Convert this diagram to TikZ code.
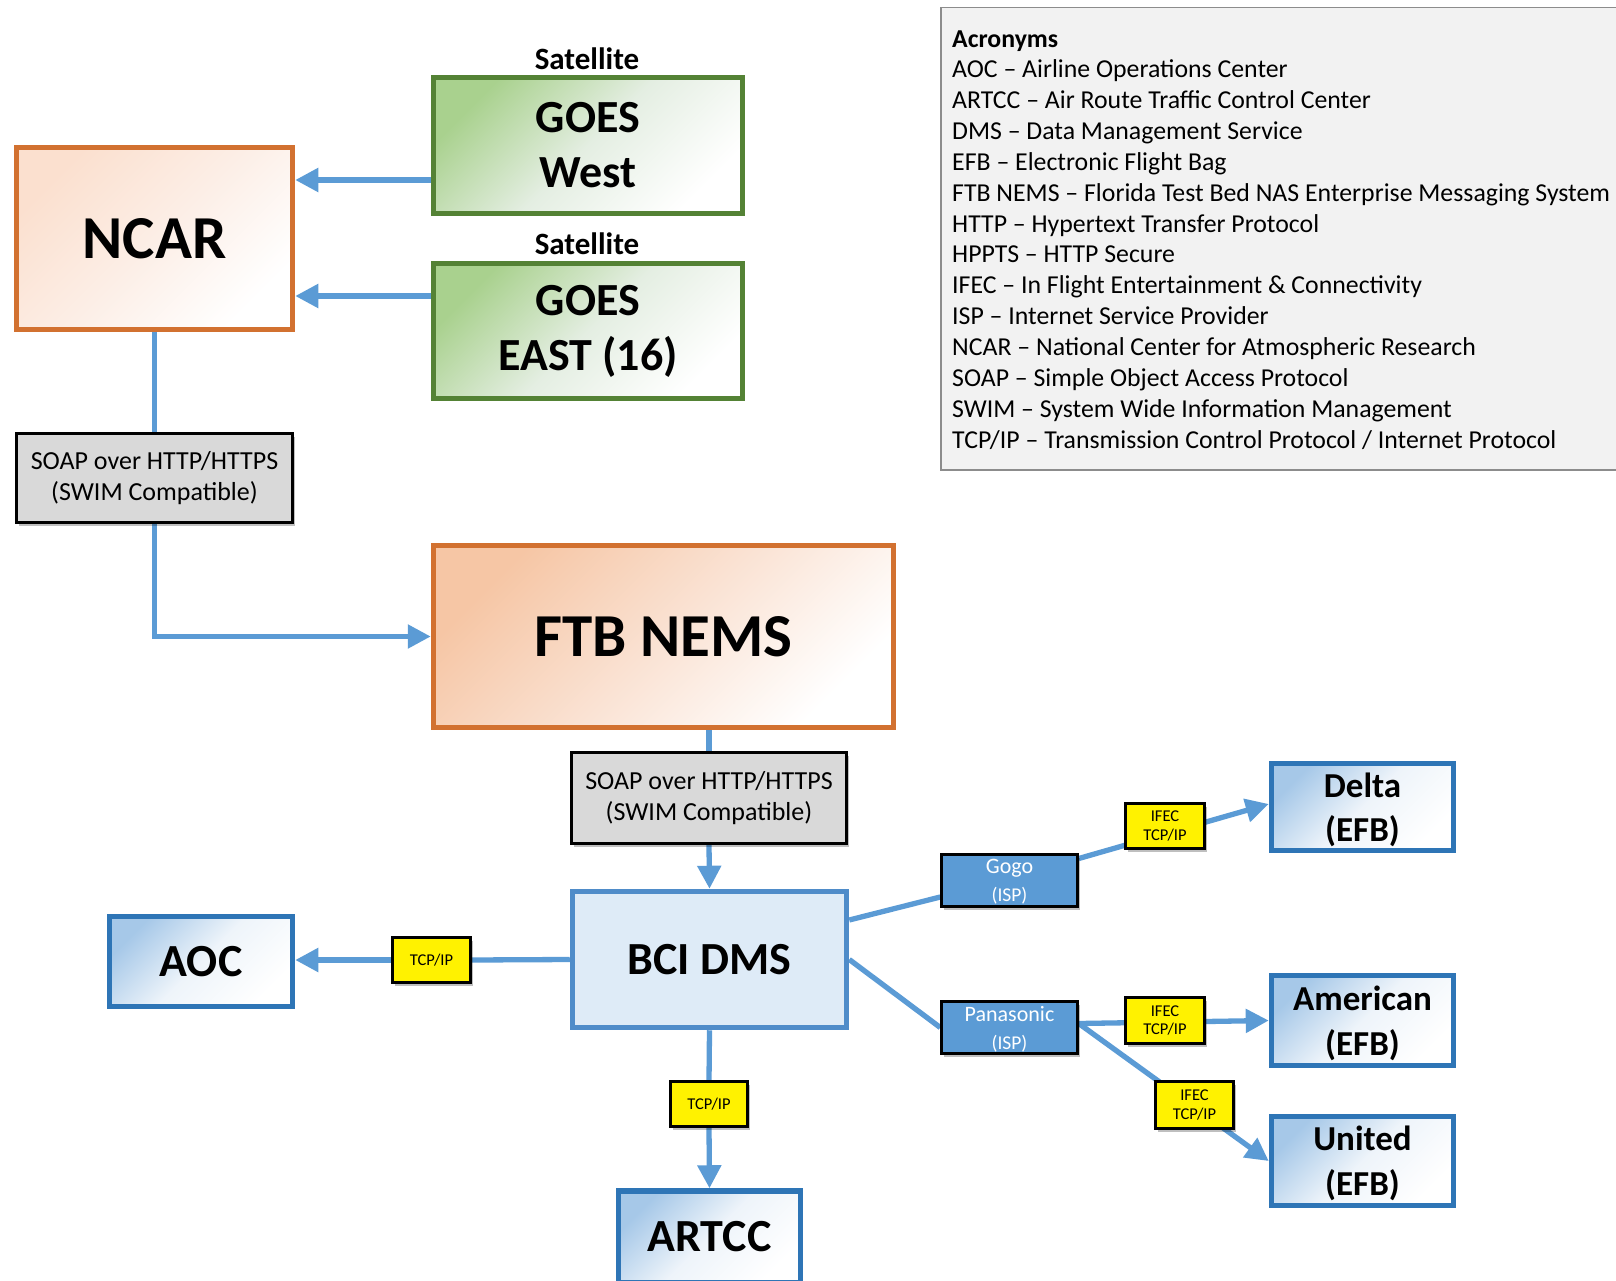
\documentclass[tikz,border=0pt]{standalone}
\usepackage{fontspec}
\setmainfont{Carlito}
\usetikzlibrary{arrows.meta,shadows,backgrounds,calc}
\definecolor{linkblue}{HTML}{5B9BD5}
\definecolor{boxblue}{HTML}{2E75B6}
\definecolor{bciblue}{HTML}{4F8CC9}
\definecolor{bcifill}{HTML}{DEEBF7}
\definecolor{orangeb}{HTML}{D27130}
\definecolor{greenb}{HTML}{548235}
\definecolor{grayfill}{HTML}{D9D9D9}
\definecolor{acrofill}{HTML}{F2F2F2}
\definecolor{acroline}{HTML}{8C8C8C}
\definecolor{blueA}{HTML}{A6C8E8}
\definecolor{blueM}{HTML}{EEF4FA}
\definecolor{orangeA}{HTML}{F6C6A5}
\definecolor{orangeM}{HTML}{FAE2D3}
\definecolor{ncarA}{HTML}{FBE0CF}
\definecolor{ncarM}{HTML}{FCEEE6}
\definecolor{greenA}{HTML}{A9D18E}
\definecolor{greenM}{HTML}{E4EEE2}
\definecolor{ispfill}{HTML}{5B9BD5}
\tikzset{
  box/.style={rectangle, inner sep=0pt, align=center, text=black},
  bluebox/.style={box, draw=boxblue, line width=5.5pt, top color=blueA, bottom color=white, middle color=blueM, shading angle=45},
  orangebox/.style={box, draw=orangeb, line width=5.5pt, font=\bfseries\fontsize{61}{70}\selectfont},
  greenbox/.style={box, draw=greenb, line width=5.5pt, top color=greenA, bottom color=white, middle color=greenM, shading angle=45, font=\bfseries\fontsize{46}{55}\selectfont},
  graybox/.style={box, draw=black, line width=2.5pt, fill=grayfill, drop shadow={shadow xshift=2pt, shadow yshift=-3pt, fill=black, opacity=0.25}, font=\fontsize{26}{31}\selectfont},
  tagbox/.style={box, draw=black, line width=2.5pt, fill=yellow, drop shadow={shadow xshift=2pt, shadow yshift=-3pt, fill=black, opacity=0.25}, font=\fontsize{16.5}{18.5}\selectfont},
  ispbox/.style={box, draw=black, line width=2.5pt, fill=ispfill, text=white, text depth=0pt, drop shadow={shadow xshift=2pt, shadow yshift=-3pt, fill=black, opacity=0.25}, font=\fontsize{22}{28}\selectfont},
  bigfont/.style={font=\bfseries\fontsize{46}{55}\selectfont},
  airfont/.style={font=\bfseries\fontsize{35}{44}\selectfont, text depth=0pt},
  satlabel/.style={font=\bfseries\fontsize{31}{35}\selectfont, inner sep=0pt},
  link/.style={draw=linkblue, line width=5.3pt},
  arr/.style={link, -{Triangle[length=23pt,width=23pt]}},
}
\begin{document}
\begin{tikzpicture}[x=1pt, y=-1pt]
\useasboundingbox (0,0) rectangle (1616,1281);
\clip (0,0) rectangle (1616,1281);

% acronyms
\node (acro) [draw=acroline, line width=1.5pt, fill=acrofill, anchor=north west, minimum width=720pt, minimum height=462pt] at (940,7) {};
\node (acrotext) [anchor=west, align=left, inner sep=0pt, font=\fontsize{25.8}{30.85}\selectfont] at ([xshift=12pt,yshift=-1pt]acro.west) {\textbf{Acronyms}\\
AOC – Airline Operations Center\\
ARTCC – Air Route Traffic Control Center\\
DMS – Data Management Service\\
EFB – Electronic Flight Bag\\
FTB NEMS – Florida Test Bed NAS Enterprise Messaging System\\
HTTP – Hypertext Transfer Protocol\\
HPPTS – HTTP Secure\\
IFEC – In Flight Entertainment \& Connectivity\\
ISP – Internet Service Provider\\
NCAR – National Center for Atmospheric Research\\
SOAP – Simple Object Access Protocol\\
SWIM – System Wide Information Management\\
TCP/IP – Transmission Control Protocol / Internet Protocol};

% satellites
\node (sat1) [satlabel] at (587,59) {Satellite};
\node (goesw) [greenbox, minimum width=309pt, minimum height=136pt] at (588,145.5) {GOES\\West};
\node (sat2) [satlabel] at (587,244) {Satellite};
\node (goese) [greenbox, minimum width=309pt, minimum height=135pt] at (588,331) {GOES\\EAST (16)};

% NCAR and FTB
\node (ncar) [orangebox, top color=ncarA, bottom color=white, middle color=ncarM, shading angle=45, minimum width=276pt, minimum height=182pt] at (154.5,238.5) {NCAR};
\node (soap1) [graybox, minimum width=276pt, minimum height=89pt] at (154.5,478) {SOAP over HTTP/HTTPS\\(SWIM Compatible)};
\node (ftb) [orangebox, top color=orangeA, bottom color=white, middle color=orangeM, shading angle=45, minimum width=460pt, minimum height=182pt] at (663.5,636.5) {FTB NEMS};
\node (soap2) [graybox, minimum width=275pt, minimum height=91pt] at (709,798) {SOAP over HTTP/HTTPS\\(SWIM Compatible)};

% BCI DMS and left/bottom
\node (bci) [box, draw=bciblue, line width=5.5pt, fill=bcifill, bigfont, minimum width=274pt, minimum height=136pt] at (709.5,959.5) {BCI DMS};
\node (aoc) [bluebox, bigfont, minimum width=183pt, minimum height=90pt] at (201,961.5) {AOC};
\node (tcpa) [tagbox, minimum width=78pt, minimum height=45pt] at (431.5,960) {TCP/IP};
\node (tcpv) [tagbox, minimum width=77pt, minimum height=45pt] at (709,1104) {TCP/IP};
\node (artcc) [bluebox, bigfont, minimum width=182pt, minimum height=92pt] at (709.5,1237) {ARTCC};

% ISPs
\node (gogo) [ispbox, minimum width=136pt, minimum height=52pt] at (1009.5,880.5) {Gogo\\{\fontsize{19.5}{28}\selectfont (ISP)}};
\node (pana) [ispbox, minimum width=136pt, minimum height=52pt] at (1009.5,1027.5) {Panasonic\\{\fontsize{19.5}{28}\selectfont (ISP)}};

% airlines
\node (delta) [bluebox, airfont, minimum width=182pt, minimum height=87pt] at (1362.5,807) {Delta\\(EFB)};
\node (american) [bluebox, airfont, minimum width=182pt, minimum height=90pt] at (1362.5,1020.5) {American\\[1pt](EFB)};
\node (united) [bluebox, airfont, minimum width=182pt, minimum height=89pt] at (1362.5,1161) {United\\[1pt](EFB)};

\node (ifecd) [tagbox, minimum width=79pt, minimum height=45pt] at (1165,826) {IFEC\\TCP/IP};
\node (ifeca) [tagbox, minimum width=79pt, minimum height=46pt] at (1165,1020.5) {IFEC\\TCP/IP};
\node (ifecu) [tagbox, minimum width=78pt, minimum height=47pt] at (1194.5,1105) {IFEC\\TCP/IP};

% connectors
\begin{scope}[on background layer]
\coordinate (wA) at ([yshift=-34.5pt]goesw.west);
\coordinate (eA) at ([yshift=35pt]goese.west);
\draw[arr] (wA) -- (wA -| ncar.east);
\draw[arr] (eA) -- (eA -| ncar.east);
\draw[link] (ncar.south) -- (soap1.north);
\draw[arr] (soap1.south) |- (ftb.west);
\draw[link] (soap2.north |- ftb.south) -- (soap2.north);
\draw[arr] (soap2.south) -- (bci.north);
\draw[link] (bci.west) -- (tcpa.east);
\draw[arr] (tcpa.west) -- (tcpa.west -| aoc.east);
\draw[link] (bci.south) -- (tcpv.north);
\draw[arr] (tcpv.south) -- (artcc.north);
\draw[link] ([yshift=39.5pt]bci.east) -- ([yshift=-16.5pt]gogo.west);
\draw[arr] ([yshift=22pt]gogo.east) -- ([yshift=3pt]delta.west);
\draw[link] (bci.east) -- (pana.west);
\draw[arr] ([yshift=4pt]pana.east) -- (american.west);
\draw[arr] ([yshift=4pt]pana.east) -- (united.west);
\end{scope}
\end{tikzpicture}
\end{document}
